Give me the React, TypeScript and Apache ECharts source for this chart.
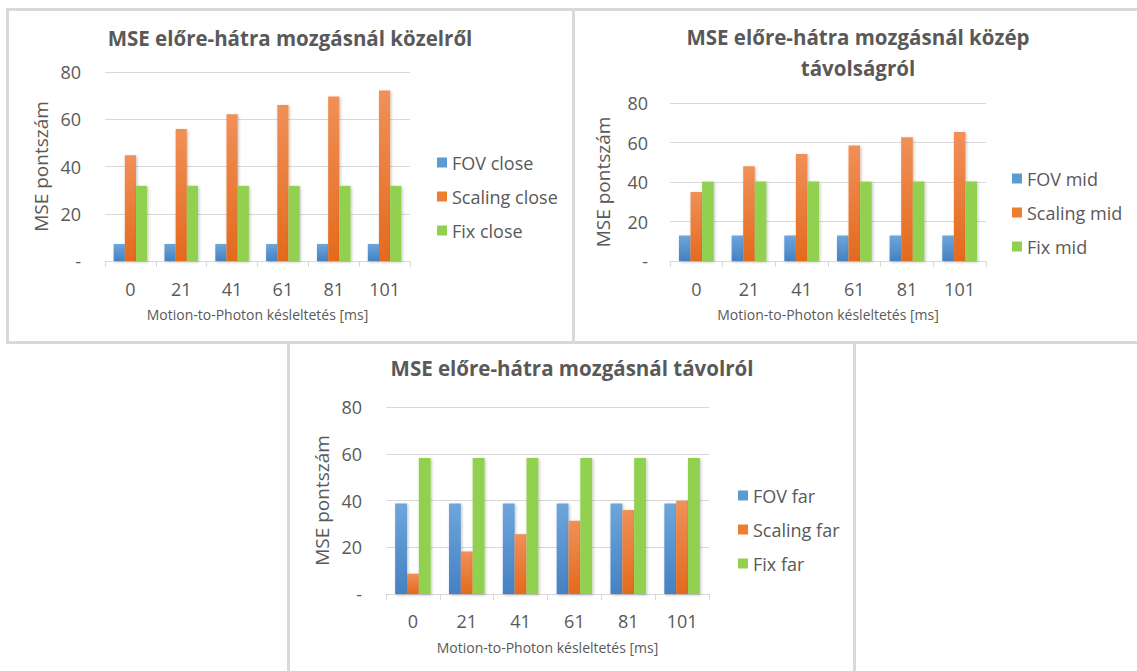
import React, { useEffect, useRef } from "react";
import * as echarts from "echarts";

const categories = ["0", "21", "41", "61", "81", "101"];

const fovClose = [7.2, 7.2, 7.2, 7.2, 7.2, 7.2];
const scalingClose = [44.8, 55.9, 62.1, 66.0, 69.6, 72.2];
const fixClose = [31.8, 31.8, 31.8, 31.8, 31.8, 31.8];

const fovMid = [12.9, 12.9, 12.9, 12.9, 12.9, 12.9];
const scalingMid = [34.9, 48.0, 54.2, 58.5, 62.7, 65.3];
const fixMid = [40.2, 40.2, 40.2, 40.2, 40.2, 40.2];

const fovFar = [38.7, 38.7, 38.7, 38.7, 38.7, 38.7];
const scalingFar = [8.7, 18.2, 25.6, 31.3, 35.9, 39.9];
const fixFar = [58.2, 58.2, 58.2, 58.2, 58.2, 58.2];

const titles = [
  "MSE előre-hátra mozgásnál közelről",
  "MSE előre-hátra mozgásnál közép\ntávolságról",
  "MSE előre-hátra mozgásnál távolról",
];
const xAxisName = "Motion-to-Photon késleltetés [ms]";
const yAxisName = "MSE pontszám";

const FONT = "'Open Sans', sans-serif";
const TEXT = "#595959";
const GRID_LINE = "#d9d9d9";

const blueFill = new echarts.graphic.LinearGradient(0, 0, 0, 1, [
  { offset: 0, color: "#6da6db" },
  { offset: 1, color: "#4581c3" },
]);
const orangeFill = new echarts.graphic.LinearGradient(0, 0, 0, 1, [
  { offset: 0, color: "#f09058" },
  { offset: 1, color: "#e46a1d" },
]);
const greenFill = "#92d050";

export default function App() {
  const ref = useRef<HTMLDivElement>(null);

  useEffect(() => {
    if (!ref.current) return;
    const chart = echarts.init(ref.current, undefined, { renderer: "svg" });

    const grids = [
      { left: 105, top: 72, width: 305, height: 189 },
      { left: 670, top: 103, width: 316, height: 158 },
      { left: 386, top: 407, width: 323, height: 187 },
    ];
    const yNameGaps = [55, 58, 55];
    const yLabelMargins = [24, 22, 24];
    const xLabelMargins = [19, 19, 18];

    const xAxes = grids.map((_, i) => ({
      type: "category",
      gridIndex: i,
      data: categories,
      boundaryGap: true,
      axisLine: { lineStyle: { color: GRID_LINE, width: 1 } },
      axisTick: { show: true, length: 6, lineStyle: { color: GRID_LINE } },
      axisLabel: { color: TEXT, fontSize: 18, fontFamily: FONT, margin: xLabelMargins[i] },
      name: xAxisName,
      nameLocation: "middle",
      nameGap: 46,
      nameTextStyle: { color: TEXT, fontSize: 14, fontFamily: FONT },
    }));

    const yAxes = grids.map((_, i) => ({
      type: "value",
      gridIndex: i,
      min: 0,
      max: 80,
      interval: 20,
      axisLine: { show: false },
      axisTick: { show: false },
      splitLine: { lineStyle: { color: GRID_LINE, width: 1 } },
      axisLabel: {
        color: TEXT,
        fontSize: 18,
        fontFamily: FONT,
        margin: yLabelMargins[i],
        formatter: (v: number) => (v === 0 ? "-" : String(v)),
      },
      name: yAxisName,
      nameLocation: "middle",
      nameGap: yNameGaps[i],
      nameTextStyle: { color: TEXT, fontSize: 19, fontFamily: FONT },
    }));

    const shadow = {
      shadowColor: "rgba(0,0,0,0.25)",
      shadowBlur: 3,
      shadowOffsetX: 1,
      shadowOffsetY: 1,
    };

    const groups = [
      { names: ["FOV close", "Scaling close", "Fix close"], data: [fovClose, scalingClose, fixClose] },
      { names: ["FOV mid", "Scaling mid", "Fix mid"], data: [fovMid, scalingMid, fixMid] },
      { names: ["FOV far", "Scaling far", "Fix far"], data: [fovFar, scalingFar, fixFar] },
    ];
    const fills = [blueFill, orangeFill, greenFill];
    const legendColors = ["#5b9bd5", "#ed7d31", "#92d050"];

    const series: any[] = [];
    groups.forEach((g, gi) => {
      g.names.forEach((name, si) => {
        series.push({
          type: "bar",
          name,
          xAxisIndex: gi,
          yAxisIndex: gi,
          data: g.data[si],
          barGap: "0%",
          barCategoryGap: "34%",
          itemStyle: { color: fills[si], ...shadow },
          emphasis: { disabled: true },
        });
      });
    });

    const legendPos = [
      { left: 437, top: 152 },
      { left: 1012, top: 168 },
      { left: 738, top: 485 },
    ];
    const legends = groups.map((g, gi) => ({
      orient: "vertical",
      left: legendPos[gi].left,
      top: legendPos[gi].top,
      padding: 0,
      itemWidth: 10,
      itemHeight: 10,
      itemGap: 13,
      icon: "rect",
      data: g.names.map((n, si) => ({ name: n, itemStyle: { color: legendColors[si] } })),
      textStyle: { color: TEXT, fontSize: 18, fontFamily: FONT, lineHeight: 21 },
      selectedMode: false,
    }));

    const titleOpts = [
      { text: titles[0], left: 290, top: 22 },
      { text: titles[1], left: 858, top: 21 },
      { text: titles[2], left: 572, top: 352 },
    ].map((t) => ({
      ...t,
      textAlign: "center",
      padding: 0,
      textStyle: { color: TEXT, fontSize: 20.5, fontWeight: "bold", fontFamily: FONT, lineHeight: 31 },
    }));

    const border = { fill: "#d9d9d9" };
    const graphic = [
      { type: "rect", shape: { x: 6, y: 8, width: 1131, height: 3 }, style: border, silent: true },
      { type: "rect", shape: { x: 6, y: 341, width: 1131, height: 3 }, style: border, silent: true },
      { type: "rect", shape: { x: 6, y: 8, width: 3, height: 336 }, style: border, silent: true },
      { type: "rect", shape: { x: 572, y: 8, width: 3, height: 336 }, style: border, silent: true },
      { type: "rect", shape: { x: 287, y: 341, width: 3, height: 330 }, style: border, silent: true },
      { type: "rect", shape: { x: 853, y: 341, width: 3, height: 330 }, style: border, silent: true },
    ];

    chart.setOption({
      animation: false,
      backgroundColor: "#ffffff",
      textStyle: { fontFamily: FONT },
      title: titleOpts,
      legend: legends,
      grid: grids,
      xAxis: xAxes,
      yAxis: yAxes,
      series,
      graphic,
    });

    return () => chart.dispose();
  }, []);

  return (
    <div
      ref={ref}
      style={{ position: "absolute", left: 0, top: 0, width: 1137, height: 671, background: "#fff" }}
    />
  );
}
